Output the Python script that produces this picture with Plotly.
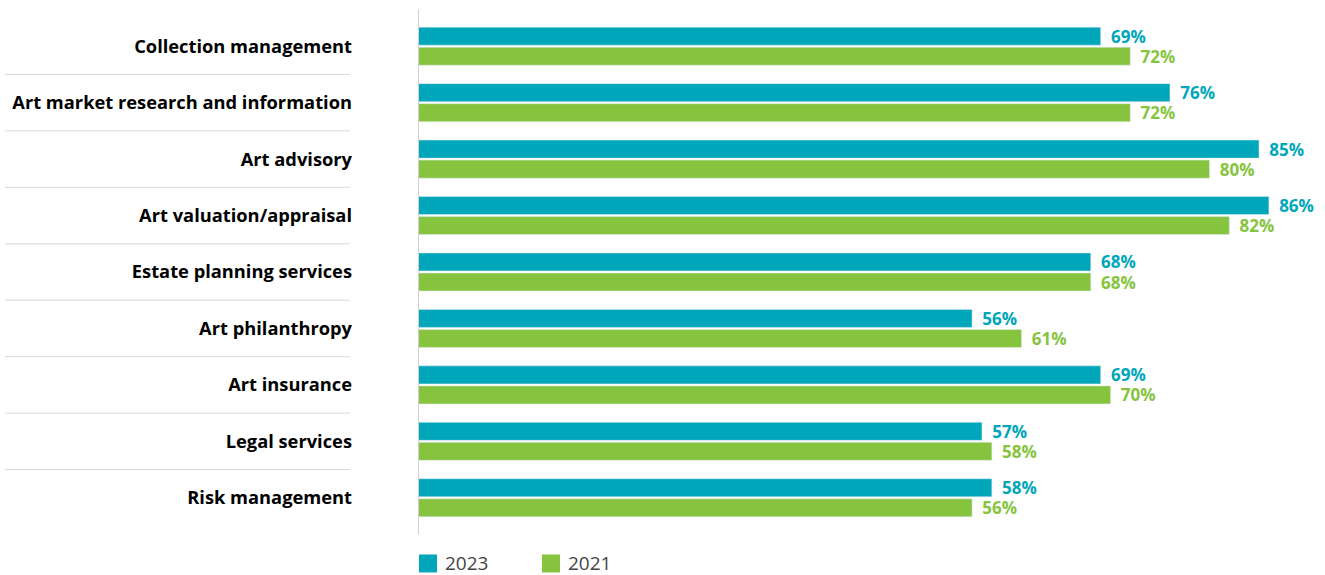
import plotly.graph_objects as go

categories = ["Collection management", "Art market research and information", "Art advisory",
              "Art valuation/appraisal", "Estate planning services", "Art philanthropy",
              "Art insurance", "Legal services", "Risk management"]
vals_2023 = [69, 76, 85, 86, 68, 56, 69, 57, 58]
vals_2021 = [72, 72, 80, 82, 68, 61, 70, 58, 56]
series_names = ["2023", "2021"]
TEAL = "#00A6B9"
GREEN = "#86C440"
colors = [TEAL, GREEN]

W, H = 1325, 575
ML, MR, MT, MB = 418, 0, 18, 48.5
plot_h = H - MT - MB
plot_w = W - ML - MR

fig = go.Figure()
idx = list(range(len(categories)))
for name, vals, col in zip(series_names, [vals_2023, vals_2021], colors):
    fig.add_trace(go.Bar(
        y=idx, x=vals, orientation="h", name=name, marker_color=col,
        text=[f" \u2009{v}%" for v in vals], textposition="outside", constraintext="none",
        textfont=dict(family="Open Sans", size=17, color=col, weight="bold"),
        cliponaxis=False, showlegend=False, hoverinfo="skip"))

bottom_px = MT + plot_h
shapes = [dict(type="line", xref="x", x0=0, x1=0, yref="paper",
               y0=(bottom_px - 9) / plot_h, y1=(bottom_px - 535) / plot_h,
               line=dict(color="#d0d0d0", width=2))]
for i in range(len(categories) - 1):
    shapes.append(dict(type="line", xref="paper", x0=(5 - ML) / plot_w, x1=(350 - ML) / plot_w,
                       yref="y", y0=i + 0.5, y1=i + 0.5, line=dict(color="#d9d9d9", width=1)))

# manual legend
annotations = []
leg_x = [419, 542]
leg_y_top, leg_y_bot = 555, 573
for name, col, lx in zip(series_names, colors, leg_x):
    shapes.append(dict(type="rect", xref="paper", yref="paper",
                       x0=(lx - ML) / plot_w, x1=(lx + 18 - ML) / plot_w,
                       y0=(bottom_px - leg_y_top) / plot_h, y1=(bottom_px - leg_y_bot) / plot_h,
                       fillcolor=col, line=dict(width=0)))
    annotations.append(dict(xref="paper", yref="paper", x=(lx + 24 - ML) / plot_w,
                            y=(bottom_px - 564) / plot_h, xanchor="left", yanchor="middle",
                            text=name, showarrow=False,
                            font=dict(family="Open Sans", size=19, color="#444")))

fig.update_layout(
    width=W, height=H, margin=dict(l=ML, r=MR, t=MT, b=MB, autoexpand=False),
    paper_bgcolor="white", plot_bgcolor="white",
    barmode="group", bargap=0.29, bargroupgap=0.1, showlegend=False,
    font=dict(family="Open Sans", color="#333"),
    xaxis=dict(range=[0, 91.67], visible=False, showgrid=False, zeroline=False),
    yaxis=dict(range=[len(categories) - 0.5, -0.5], tickmode="array", tickvals=idx,
               ticktext=categories, showgrid=False, zeroline=False, showline=False,
               ticks="", ticklabelstandoff=65, automargin=False,
               tickfont=dict(family="Open Sans", size=18.3, color="#000", weight="bold")),
    shapes=shapes, annotations=annotations,
)

fig.write_html("out.html", config={"displayModeBar": False},
               post_script="document.body.style.margin='0px';document.body.style.overflow='hidden';")
